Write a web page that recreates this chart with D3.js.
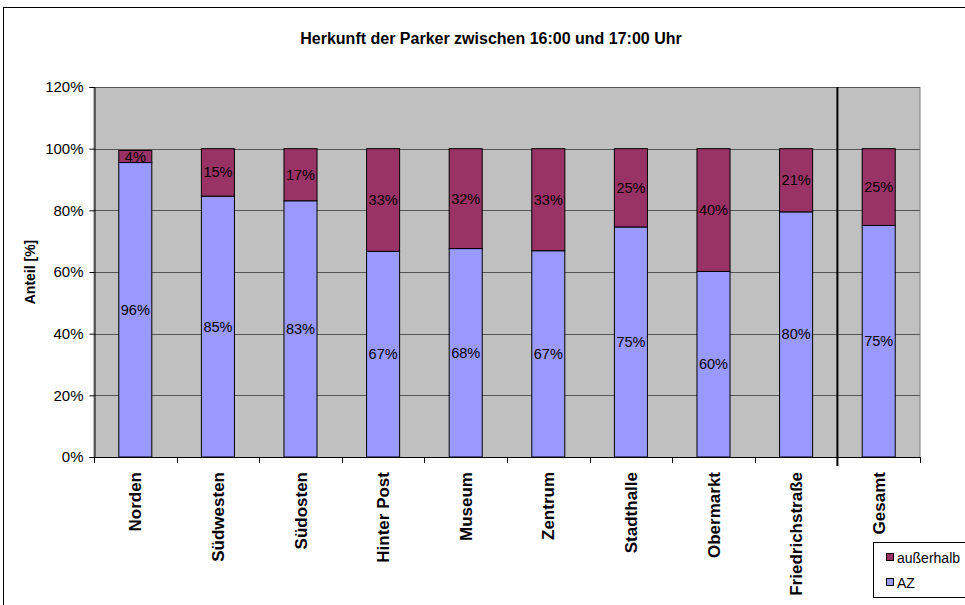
<!DOCTYPE html>
<html>
<head>
<meta charset="utf-8">
<script src="https://cdn.jsdelivr.net/npm/d3@7"></script>
<style>
  html, body { margin: 0; padding: 0; background: #fff; }
  svg { display: block; font-family: "Liberation Sans", Arial, sans-serif; }
</style>
</head>
<body>
<svg id="chart" width="965" height="605"></svg>
<script>
// Categories and shares (percent) per origin group
const categories = ["Norden", "Südwesten", "Südosten", "Hinter Post", "Museum", "Zentrum",
                    "Stadthalle", "Obermarkt", "Friedrichstraße", "Gesamt"];
const azValues        = [95.5, 84.6, 83.1, 66.7, 67.6, 66.9, 74.6, 60.2, 79.5, 75.1];
const ausserhalbValues = [3.9, 15.4, 16.9, 33.3, 32.4, 33.1, 25.4, 39.8, 20.5, 24.9];
const yTicks = [0, 20, 40, 60, 80, 100, 120];
const seriesNames = ["AZ", "außerhalb"];
const seriesColors = { "AZ": "#9999FF", "außerhalb": "#993366" };

const svg = d3.select("#chart");
const plot = { left: 94, right: 920, top: 87, bottom: 457 };

// Outer chart frame
svg.append("rect").attr("x", 3.5).attr("y", 7.5).attr("width", 980).attr("height", 620)
  .attr("fill", "#fff").attr("stroke", "#000").attr("stroke-width", 1);

// Title
svg.append("text").attr("x", 491).attr("y", 44).attr("text-anchor", "middle")
  .attr("font-size", 16).attr("font-weight", "bold")
  .text("Herkunft der Parker zwischen 16:00 und 17:00 Uhr");

const x = d3.scaleBand().domain(categories).range([plot.left, plot.right]).paddingInner(0).paddingOuter(0);
const y = d3.scaleLinear().domain([0, 120]).range([plot.bottom, plot.top]);

// Plot area background
svg.append("rect").attr("x", plot.left).attr("y", plot.top + 0.5)
  .attr("width", plot.right - plot.left).attr("height", plot.bottom - plot.top)
  .attr("fill", "#C0C0C0").attr("stroke", "#808080").attr("stroke-width", 1);

// Horizontal gridlines
svg.append("g").selectAll("line").data(yTicks.filter(d => d > 0)).join("line")
  .attr("x1", plot.left).attr("x2", plot.right)
  .attr("y1", d => Math.round(y(d)) + 0.5).attr("y2", d => Math.round(y(d)) + 0.5)
  .attr("stroke", "#555").attr("stroke-width", 1.2);

// Stacked data
const rows = categories.map((c, i) => ({ cat: c, "AZ": azValues[i], "außerhalb": ausserhalbValues[i] }));
const stacked = d3.stack().keys(seriesNames)(rows);

const bw = x.bandwidth() * 0.4;
const fmt = v => Math.round(v) + "%";

const layers = svg.append("g").selectAll("g").data(stacked).join("g")
  .attr("fill", d => seriesColors[d.key]);

layers.selectAll("rect").data(d => d).join("rect")
  .attr("x", d => x(d.data.cat) + (x.bandwidth() - bw) / 2)
  .attr("y", d => y(d[1]))
  .attr("width", bw)
  .attr("height", d => y(d[0]) - y(d[1]))
  .attr("stroke", "#000").attr("stroke-width", 1);

// Value labels centred in each segment
stacked.forEach(layer => {
  svg.append("g").selectAll("text").data(layer).join("text")
    .attr("x", d => x(d.data.cat) + x.bandwidth() / 2)
    .attr("y", d => (y(d[0]) + y(d[1])) / 2 + 5)
    .attr("text-anchor", "middle").attr("font-size", 14.5).attr("fill", "#000")
    .text(d => fmt(d[1] - d[0]));
});

// Y axis
const yAxis = d3.axisLeft(y).tickValues(yTicks).tickFormat(d => d + "%").tickSize(5).tickPadding(6);
const gy = svg.append("g").attr("transform", `translate(${plot.left + 0.5},0)`).call(yAxis);
gy.select(".domain").attr("stroke", "#000");
gy.selectAll(".tick line").attr("stroke", "#000");
gy.selectAll(".tick text").attr("font-size", 15).attr("fill", "#000")
  .attr("font-family", "Liberation Sans, Arial, sans-serif");

// X axis: ticks at category boundaries
svg.append("line").attr("x1", plot.left).attr("x2", plot.right)
  .attr("y1", plot.bottom + 0.5).attr("y2", plot.bottom + 0.5).attr("stroke", "#000");
const bounds = categories.map(c => x(c)).concat([plot.right]);
svg.append("g").selectAll("line").data(bounds).join("line")
  .attr("x1", d => Math.round(d) + 0.5).attr("x2", d => Math.round(d) + 0.5)
  .attr("y1", plot.bottom).attr("y2", plot.bottom + 6).attr("stroke", "#000");

// Category labels, rotated
svg.append("g").selectAll("text").data(categories).join("text")
  .attr("transform", c => `translate(${x(c) + x.bandwidth() / 2 + 6},${plot.bottom + 15}) rotate(-90)`)
  .attr("text-anchor", "end").attr("font-size", 17).attr("font-weight", "bold")
  .text(c => c);

// Separator before the total column
const sepX = x("Gesamt");
svg.append("line").attr("x1", sepX).attr("x2", sepX)
  .attr("y1", plot.top).attr("y2", plot.bottom + 9)
  .attr("stroke", "#000").attr("stroke-width", 2);

// Y axis title
svg.append("text").attr("transform", `translate(35,${(plot.top + plot.bottom) / 2}) rotate(-90)`)
  .attr("text-anchor", "middle").attr("font-size", 14).attr("font-weight", "bold")
  .text("Anteil [%]");

// Legend
const lg = svg.append("g").attr("transform", "translate(873.5,542.5)");
lg.append("rect").attr("width", 100).attr("height", 55).attr("fill", "#fff").attr("stroke", "#000");
const legendItems = ["außerhalb", "AZ"];
legendItems.forEach((name, i) => {
  const yy = 15 + i * 25;
  lg.append("rect").attr("x", 13).attr("y", yy - 4).attr("width", 7).attr("height", 7)
    .attr("fill", seriesColors[name]).attr("stroke", "#000").attr("stroke-width", 1);
  lg.append("text").attr("x", 23.5).attr("y", yy + 5).attr("font-size", 14).text(name);
});
</script>
</body>
</html>
